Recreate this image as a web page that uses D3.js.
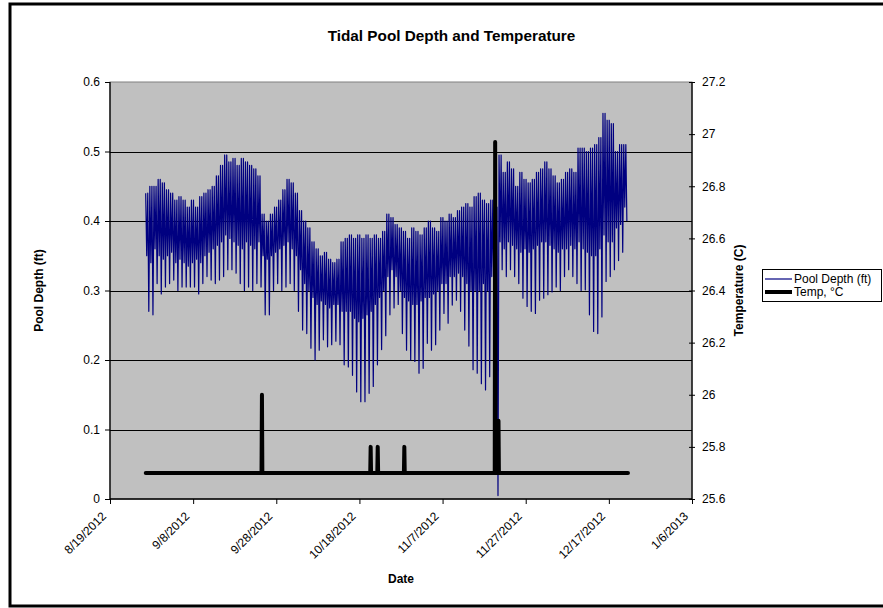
<!DOCTYPE html>
<html><head><meta charset="utf-8">
<script src="https://cdn.jsdelivr.net/npm/d3@7"></script>
<style>
body{margin:0;background:#fff}
svg{display:block;font-family:"Liberation Sans",Arial,sans-serif}
</style>
</head><body>
<svg id="c" width="883" height="608"></svg>
<script>
// ---------- data ----------
const chartTitle = "Tidal Pool Depth and Temperature";
const xTickLabels = ["8/19/2012","9/8/2012","9/28/2012","10/18/2012","11/7/2012","11/27/2012","12/17/2012","1/6/2013"];
const leftTicks = [0,0.1,0.2,0.3,0.4,0.5,0.6];
const rightTicks = [25.6,25.8,26,26.2,26.4,26.6,26.8,27,27.2];

// Pool depth (ft): one entry per day starting 8/27/2012 (four readings per day: high, mid-low, high, low)
const depthStart = "2012-08-27T14:00:00Z";
const depthHigh = [
 .44,.45,.45,.46,.455,.445,.44,.43,.435,.43,
 .42,.43,.42,.435,.44,.445,.45,.465,.48,.495,
 .485,.49,.48,.49,.485,.48,.475,.465,.41,.40,
 .41,.42,.43,.445,.46,.455,.44,.415,.40,.39,
 .37,.36,.35,.355,.345,.34,.345,.37,.375,.38,
 .375,.38,.375,.38,.375,.38,.375,.385,.41,.405,
 .395,.39,.385,.375,.39,.385,.38,.39,.40,.39,
 .385,.405,.40,.41,.405,.415,.42,.425,.42,.435,
 .44,.43,.425,.43,.42,.495,.47,.485,.475,.45,
 .47,.46,.455,.46,.47,.475,.485,.475,.465,.455,
 .46,.47,.475,.47,.505,.505,.50,.505,.51,.52,
 .555,.545,.54,.50,.51,.51];
const depthMid = [
 .35,.34,.36,.35,.345,.35,.355,
 .34,.345,.34,.335,.34,.345,.34,.35,.355,
 .36,.365,.37,.38,.375,.37,.365,.36,.37,.365,.36,.37,
 .35,.345,.35,.355,.36,.365,.37,.36,.35,.33,
 .31,.30,.29,.28,.285,.28,.275,.28,.28,.27,
 .27,.27,.26,.255,.26,.265,.27,.28,.29,.30,
 .32,.33,.32,
 .30,.29,.285,.28,.28,.285,.29,.29,.295,.30,.31,
 .31,.32,.32,.325,.32,.31,.30,.30,.30,.31,.30,.32,.33,
 .37,.36,.37,.365,.36,.355,.36,.355,.36,.365,.37,.37,.365,.36,.355,.36,.36,.365,.36,
 .37,.36,.355,.35,.35,.36,.38,.37,.37,.39,.395,.42];
const depthLow = [
 .27,.265,.31,.295,.305,.31,.315,.30,.305,.305,
 .305,.305,.295,.31,.32,.315,.31,.315,.32,.33,
 .33,.325,.31,.30,.305,.30,.31,.305,.265,.265,
 .30,.31,.30,.305,.31,.30,.27,.243,.238,.217,
 .20,.214,.229,.219,.222,.227,.222,.193,.19,.178,
 .154,.14,.14,.152,.162,.193,.215,.235,.265,.275,
 .28,.238,.214,.20,.198,.181,.188,.224,.214,.222,
 .243,.267,.253,.279,.286,.27,.243,.22,.186,.181,
 .166,.157,.176,.30,.005,.33,.32,.33,.32,.31,
 .289,.277,.27,.267,.286,.289,.294,.298,.305,.30,
 .32,.33,.32,.31,.30,.301,.265,.241,.238,.262,
 .313,.32,.33,.343,.355,.40];

// Temperature (°C): days after 8/19/2012
const tempDay   = [8.6, 36.45,36.55,36.65, 62.6,62.7,62.8, 64.3,64.4,64.5, 70.7,70.8,70.9, 92.55,92.65,92.75, 93.35,93.45,93.55, 124.6];
const tempValue = [25.7, 25.7,26.0,25.7,   25.7,25.8,25.7, 25.7,25.8,25.7, 25.7,25.8,25.7, 25.7,26.97,25.7,   25.7,25.9,25.7,   25.7];

const seriesNames = ["Pool Depth (ft)", "Temp, \u00b0C"];

// ---------- layout ----------
const svg = d3.select("#c");
const L = 110, R = 692, T = 82, B = 499;
const parseDate = d3.utcParse("%m/%d/%Y");
const tickDates = xTickLabels.map(parseDate);
const x = d3.scaleUtc().domain([tickDates[0], tickDates[tickDates.length-1]]).range([L, R]);
const yL = d3.scaleLinear().domain([0, 0.6]).range([B, T]);
const yR = d3.scaleLinear().domain([25.6, 27.2]).range([B, T]);
const DAY = 864e5;

// chart border
svg.append("rect").attr("x",10).attr("y",4).attr("width",900).attr("height",602)
  .attr("fill","#fff").attr("stroke","#000").attr("stroke-width",3);

// plot area
svg.append("rect").attr("x",L).attr("y",T).attr("width",R-L).attr("height",B-T)
  .attr("fill","#c0c0c0").attr("stroke","#808080").attr("stroke-width",1);

// gridlines
svg.append("g").selectAll("line").data(leftTicks.filter(v => v > 0 && v < 0.6)).join("line")
  .attr("x1",L).attr("x2",R).attr("y1",d => Math.round(yL(d))+0.5).attr("y2",d => Math.round(yL(d))+0.5)
  .attr("stroke","#000").attr("stroke-width",1);

svg.append("defs").append("clipPath").attr("id","clip")
  .append("rect").attr("x",L).attr("y",T-2).attr("width",R-L).attr("height",B-T+12);

// depth series
const depthPts = [];
const t0 = new Date(depthStart).getTime();
depthHigh.forEach((h,i) => {
  const b = t0 + i*DAY;
  depthPts.push([b, h], [b+0.25*DAY, depthMid[i]], [b+0.5*DAY, h], [b+0.75*DAY, depthLow[i]]);
});
svg.append("path").datum(depthPts).attr("clip-path","url(#clip)")
  .attr("fill","none").attr("stroke","#000080").attr("stroke-width",1.2).attr("stroke-linejoin","round")
  .attr("d", d3.line().x(d => x(new Date(d[0]))).y(d => yL(d[1])));

// temperature series
const tempPts = tempDay.map((d,i) => [tickDates[0].getTime() + d*DAY, tempValue[i]]);
svg.append("path").datum(tempPts)
  .attr("fill","none").attr("stroke","#000").attr("stroke-width",4).attr("stroke-linejoin","round").attr("stroke-linecap","round")
  .attr("d", d3.line().x(d => x(new Date(d[0]))).y(d => yR(d[1])));

// axes
const fmtNum = d => String(+d.toFixed(1));
const gl = svg.append("g").attr("transform",`translate(${L},0)`)
  .call(d3.axisLeft(yL).tickValues(leftTicks).tickSize(5).tickPadding(5).tickFormat(fmtNum));
const gr = svg.append("g").attr("transform",`translate(${R},0)`)
  .call(d3.axisRight(yR).tickValues(rightTicks).tickSize(3).tickPadding(7).tickFormat(fmtNum));
gr.selectAll(".tick line").attr("x1",-3);
const gb = svg.append("g").attr("transform",`translate(0,${B})`)
  .call(d3.axisBottom(x).tickValues(tickDates).tickSize(5).tickFormat(""));
[gl,gr,gb].forEach(g => {
  g.select(".domain").attr("stroke","#000").attr("stroke-width",1.3);
  g.selectAll(".tick line").attr("stroke","#000");
  g.selectAll("text").attr("font-size",12).attr("fill","#000").attr("font-family","Liberation Sans, Arial, sans-serif");
});
gl.select(".domain").attr("d",`M0,${T}V${B}`);
gr.select(".domain").attr("d",`M0,${T}V${B}`);
gb.select(".domain").attr("d",`M${L},0H${R}`);

// rotated date labels
svg.append("g").selectAll("text").data(tickDates).join("text")
  .attr("transform", (d,i) => `translate(${x(d)-3},${B+18}) rotate(-45)`)
  .attr("text-anchor","end").attr("font-size",12).attr("fill","#000")
  .text((d,i) => xTickLabels[i]);

// titles
svg.append("text").attr("x",451.5).attr("y",41).attr("text-anchor","middle")
  .attr("font-size",15.3).attr("font-weight","bold").text(chartTitle);
svg.append("text").attr("x",401).attr("y",583).attr("text-anchor","middle")
  .attr("font-size",12).attr("font-weight","bold").text("Date");
svg.append("text").attr("transform",`translate(43,${(T+B)/2}) rotate(-90)`).attr("text-anchor","middle")
  .attr("font-size",12).attr("font-weight","bold").text("Pool Depth (ft)");
svg.append("text").attr("transform",`translate(743,${(T+B)/2}) rotate(-90)`).attr("text-anchor","middle")
  .attr("font-size",12).attr("font-weight","bold").text("Temperature (C)");

// legend
const lg = svg.append("g");
lg.append("rect").attr("x",762.5).attr("y",269.5).attr("width",119).attr("height",32)
  .attr("fill","#fff").attr("stroke","#000").attr("stroke-width",1);
const legendStyles = [{c:"#000080", w:1.2}, {c:"#000", w:4}];
seriesNames.forEach((n,i) => {
  const yy = 279 + i*13;
  lg.append("line").attr("x1",765).attr("x2",792).attr("y1",yy).attr("y2",yy)
    .attr("stroke",legendStyles[i].c).attr("stroke-width",legendStyles[i].w);
  lg.append("text").attr("x",794).attr("y",yy).attr("dy","0.35em").attr("font-size",12).text(n);
});
</script>
</body></html>
